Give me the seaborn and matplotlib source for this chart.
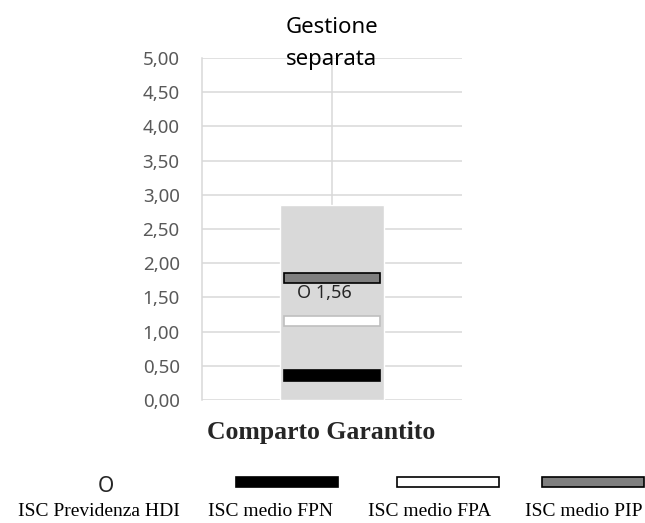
import matplotlib
matplotlib.use("Agg")
import matplotlib.pyplot as plt
import matplotlib.patches as mpatches
from matplotlib.ticker import FuncFormatter
import pandas as pd
import seaborn as sns

# dati
comparto = ["Comparto Garantito"]
range_max = [2.85]          # estremo superiore del range (box grigio)
isc_hdi = [1.56]            # ISC Previdenza HDI
isc_fpn = [0.36]            # ISC medio FPN
isc_fpa = [1.16]            # ISC medio FPA
isc_pip = [1.79]            # ISC medio PIP
legenda = ["ISC Previdenza HDI", "ISC medio FPN", "ISC medio FPA", "ISC medio PIP"]

df = pd.DataFrame({"comparto": comparto, "range": range_max,
                   "hdi": isc_hdi, "fpn": isc_fpn, "fpa": isc_fpa, "pip": isc_pip})

sns.set_theme(style="white")
plt.rcParams["font.family"] = ["Noto Sans", "DejaVu Sans"]

fig = plt.figure(figsize=(6.45, 5.23), dpi=100)
ax = fig.add_axes([0.313, 0.235, 0.403, 0.654])

# box grigio del range
sns.barplot(data=df, x="comparto", y="range", color="#d9d9d9", width=0.4,
            saturation=1, ax=ax, zorder=2)

# barrette ISC medi
h = 0.15
stili = [("fpn", "#000000", "#000000"), ("fpa", "#ffffff", "#bfbfbf"), ("pip", "#7f7f7f", "#000000")]
for col, fc, ec in stili:
    ax.bar(range(len(df)), [h] * len(df), bottom=df[col] - h / 2, width=0.37,
           color=fc, edgecolor=ec, linewidth=1.2, zorder=3)

# ISC Previdenza HDI
for i, v in enumerate(df["hdi"]):
    ax.text(i - 0.03, v, "O " + f"{v:.2f}".replace(".", ","), ha="center", va="center",
            fontsize=13, color="#262626", zorder=4)

ax.set_ylim(0, 5)
ax.set_xlim(-0.5, 0.5)
ax.set_yticks([i * 0.5 for i in range(11)])
ax.yaxis.set_major_formatter(FuncFormatter(lambda v, p: f"{v:.2f}".replace(".", ",")))
ax.tick_params(axis="y", length=0, pad=16, labelsize=13.5, labelcolor="#595959")
ax.tick_params(axis="x", length=0, labelbottom=False)
ax.set_xlabel("")
ax.set_ylabel("")
ax.grid(True, axis="both", color="#d9d9d9", linewidth=1.1)
ax.set_axisbelow(True)
for s in ["top", "right", "bottom"]:
    ax.spines[s].set_visible(False)
ax.spines["left"].set_color("#d9d9d9")
ax.spines["left"].set_linewidth(1.1)

ax.text(0, 5.21, "Gestione\nseparata", ha="center", va="center", fontsize=16,
        color="#000000", linespacing=1.65, zorder=5)
fig.text(321 / 645, 1 - 433 / 523, comparto[0], ha="center", va="center",
         fontsize=18.5, fontweight="bold", family="Liberation Serif")

# legenda in basso
leg_y = 1 - 486 / 523
lab_y = 1 - 511 / 523
lab_x = [99, 270, 430, 584]
fig.text(106 / 645, leg_y, "O", ha="center", va="center", fontsize=15, fontweight="bold")
barre = [(236, "#000000", "#000000"), (397, "#ffffff", "#000000"), (542, "#7f7f7f", "#000000")]
for x0, fc, ec in barre:
    fig.patches.append(mpatches.Rectangle((x0 / 645, 1 - 487 / 523), 102 / 645, 10 / 523,
                                          transform=fig.transFigure, facecolor=fc,
                                          edgecolor=ec, linewidth=1.2))
for x, t in zip(lab_x, legenda):
    fig.text(x / 645, lab_y, t, ha="center", va="center", fontsize=14,
             family="Liberation Serif", color="#000000")

fig.savefig("out.png", dpi=100)
